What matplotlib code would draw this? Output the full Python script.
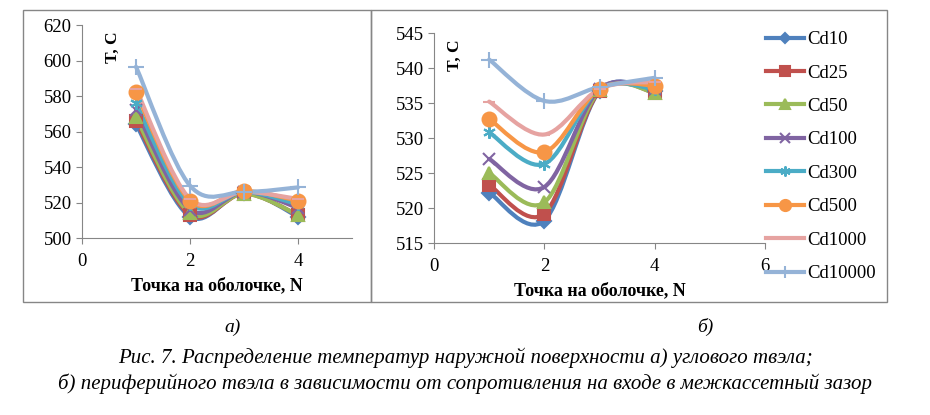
import numpy as np
import matplotlib.pyplot as plt
from matplotlib.path import Path
from matplotlib.patches import PathPatch, Rectangle
from matplotlib.lines import Line2D

plt.rcParams['font.family'] = ['Liberation Serif', 'DejaVu Serif']

points = [1, 2, 3, 4]
names = ['Cd10', 'Cd25', 'Cd50', 'Cd100', 'Cd300', 'Cd500', 'Cd1000', 'Cd10000']
colors = ['#4F81BD', '#C0504D', '#9BBB59', '#8064A2', '#4BACC6', '#F79646', '#E6A3A1', '#95B3D7']
markers = ['D', 's', '^', 'x', (6, 2, 0), 'o', '_', '+']
msizes = [7, 9, 9, 9, 9, 10, 9, 11]

# а) угловой твэл
t_corner = [
    [564, 512, 525.5, 512],
    [566, 513, 525, 513],
    [568, 514, 525, 513],
    [572, 516, 526, 517],
    [576, 519, 526, 519],
    [582, 521, 526.5, 521],
    [584, 522, 526, 522],
    [596.5, 529.5, 526, 528.5],
]
# б) периферийный твэл
t_periph = [
    [522.2, 518.2, 536.7, 536.7],
    [523.3, 519.2, 536.7, 536.5],
    [525.0, 520.8, 536.8, 536.5],
    [527.0, 523.0, 537.0, 537.0],
    [530.8, 526.3, 537.0, 537.0],
    [532.7, 528.0, 537.0, 537.5],
    [535.2, 530.5, 537.0, 538.0],
    [541.2, 535.3, 537.3, 538.6],
]


def smooth_path(x, y):
    # bezier segments like Excel's smoothed line
    x = np.asarray(x, float)
    y = np.asarray(y, float)
    n = len(x)
    verts = [(x[0], y[0])]
    codes = [Path.MOVETO]
    for i in range(n - 1):
        i0 = max(i - 1, 0)
        i3 = min(i + 2, n - 1)
        c1 = (x[i] + (x[i + 1] - x[i0]) / 6, y[i] + (y[i + 1] - y[i0]) / 6)
        c2 = (x[i + 1] - (x[i3] - x[i]) / 6, y[i + 1] - (y[i3] - y[i]) / 6)
        verts += [c1, c2, (x[i + 1], y[i + 1])]
        codes += [Path.CURVE4] * 3
    return Path(verts, codes)


def draw(ax, data):
    for vals, c, m, ms in zip(data, colors, markers, msizes):
        ax.add_patch(PathPatch(smooth_path(points, vals), fill=False, edgecolor=c, lw=3, capstyle='round'))
        ax.plot(points, vals, ls='none', marker=m, ms=ms, color=c, mec=c, mew=1.5)
    for s in ['top', 'right']:
        ax.spines[s].set_visible(False)
    for s in ['left', 'bottom']:
        ax.spines[s].set_color('#868686')
    ax.tick_params(colors='#868686', labelcolor='black', labelsize=13.5, length=4)
    ax.tick_params(axis='x', pad=7)
    ax.set_xlabel('Точка на оболочке, N', fontweight='bold', fontsize=13, labelpad=5)


fig = plt.figure(figsize=(9.3, 4.15), dpi=100)

ax1 = fig.add_axes([82 / 930, 1 - 238 / 415, 270 / 930, 213 / 415])
draw(ax1, t_corner)
ax1.set_xlim(0, 5)
ax1.set_ylim(500, 620)
ax1.set_xticks([0, 2, 4])
ax1.set_yticks(np.arange(500, 621, 20))
ax1.text(0.085, 0.97, 'T, C', transform=ax1.transAxes, rotation=90, fontweight='bold',
         fontsize=12.5, ha='left', va='top')

ax2 = fig.add_axes([434 / 930, 1 - 243 / 415, 331 / 930, 210 / 415])
draw(ax2, t_periph)
ax2.set_xlim(0, 6)
ax2.set_ylim(515, 545)
ax2.set_xticks([0, 2, 4, 6])
ax2.set_yticks(np.arange(515, 546, 5))
ax2.text(0.04, 0.97, 'T, C', transform=ax2.transAxes, rotation=90, fontweight='bold',
         fontsize=12.5, ha='left', va='top')

handles = [Line2D([], [], color=c, lw=3, marker=m, ms=ms * 0.8, mew=1.5) for c, m, ms in zip(colors, markers, msizes)]
fig.legend(handles, names, loc='upper left', bbox_to_anchor=(766 / 930, 1 - 31 / 415),
           frameon=False, fontsize=13.5, handlelength=2.0, handletextpad=0.2, labelspacing=0.87,
           borderaxespad=0, borderpad=0)

# frames around both panels
fig.add_artist(Rectangle((23 / 930, 1 - 302 / 415), 348 / 930, 292 / 415, transform=fig.transFigure,
                         fill=False, edgecolor='#868686', lw=1))
fig.add_artist(Rectangle((371 / 930, 1 - 302 / 415), 516 / 930, 292 / 415, transform=fig.transFigure,
                         fill=False, edgecolor='#868686', lw=1))

fig.text(233 / 930, 1 - 327 / 415, 'а)', style='italic', fontsize=14, ha='center', va='center')
fig.text(705 / 930, 1 - 327 / 415, 'б)', style='italic', fontsize=14, ha='center', va='center')
fig.text(465 / 930, 1 - 358 / 415,
         'Рис. 7. Распределение температур наружной поверхности а) углового твэла;',
         style='italic', fontsize=15, ha='center', va='center')
fig.text(465 / 930, 1 - 384 / 415,
         'б) периферийного твэла в зависимости от сопротивления на входе в межкассетный зазор',
         style='italic', fontsize=15, ha='center', va='center')

fig.savefig('out.png', dpi=100)
